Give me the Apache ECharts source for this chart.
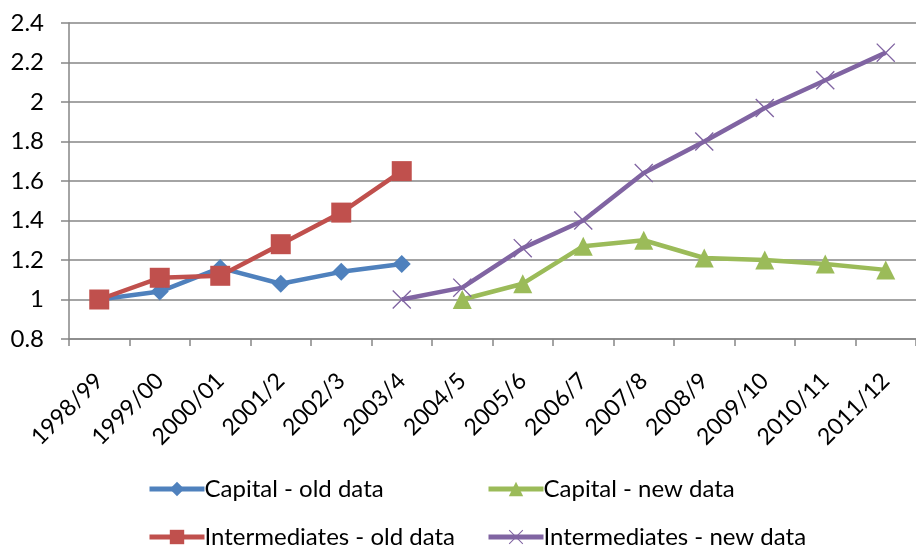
<!DOCTYPE html>
<html>
<head>
<meta charset="utf-8">
<script src="https://cdn.jsdelivr.net/npm/echarts@6/dist/echarts.min.js"></script>
<style>
  html, body { margin: 0; padding: 0; background: #fff; }
  #chart { width: 916px; height: 547px; }
</style>
</head>
<body>
<div id="chart"></div>
<script>
// Fiscal years on the category axis
const years = ['1998/99', '1999/00', '2000/01', '2001/2', '2002/3', '2003/4', '2004/5',
  '2005/6', '2006/7', '2007/8', '2008/9', '2009/10', '2010/11', '2011/12'];

// Index values (base year = 1)
const capitalOld = [1.00, 1.04, 1.16, 1.08, 1.14, 1.18, null, null, null, null, null, null, null, null];
const intermediatesOld = [1.00, 1.11, 1.12, 1.28, 1.44, 1.65, null, null, null, null, null, null, null, null];
const capitalNew = [null, null, null, null, null, null, 1.00, 1.08, 1.27, 1.30, 1.21, 1.20, 1.18, 1.15];
const intermediatesNew = [null, null, null, null, null, 1.00, 1.06, 1.26, 1.40, 1.64, 1.80, 1.97, 2.11, 2.25];

const yTicks = { min: 0.8, max: 2.4, step: 0.2 };

const FONT = 'Lato, "Open Sans", sans-serif';
const GRID_GRAY = '#868686';
const crossPath = 'path://M0,1 L1,0 L10,9 L19,0 L20,1 L11,10 L20,19 L19,20 L10,11 L1,20 L0,19 L9,10 Z';

function lineSeries(name, data, color, symbol, size) {
  return {
    name: name,
    type: 'line',
    data: data,
    connectNulls: false,
    symbol: symbol,
    symbolSize: size,
    showAllSymbol: true,
    lineStyle: { color: color, width: 4.5 },
    itemStyle: { color: color },
    emphasis: { disabled: true },
    animation: false
  };
}

// One legend entry per block so the two columns line up
function legendItem(name, left, top) {
  return {
    data: [name], left: left, top: top,
    itemWidth: 55, itemHeight: 18,
    lineStyle: { width: 5 },
    textStyle: { fontSize: 24, color: '#000', fontFamily: FONT, padding: [0, 0, 0, -5] }
  };
}

const chart = echarts.init(document.getElementById('chart'));
chart.setOption({
  backgroundColor: '#ffffff',
  textStyle: { fontFamily: FONT },
  grid: { left: 69, top: 23, bottom: 208, right: -7, containLabel: false },
  xAxis: {
    type: 'category',
    data: years,
    boundaryGap: true,
    axisLine: { lineStyle: { color: GRID_GRAY, width: 1.5 } },
    axisTick: { show: true, length: 7, interval: 0, lineStyle: { color: GRID_GRAY, width: 1.5 } },
    axisLabel: { interval: 0, rotate: 45, margin: 38, fontSize: 23, color: '#000', fontFamily: FONT },
    splitLine: { show: false }
  },
  yAxis: {
    type: 'value',
    min: yTicks.min,
    max: yTicks.max,
    interval: yTicks.step,
    axisLine: { show: true, lineStyle: { color: GRID_GRAY, width: 1.5 } },
    axisTick: { show: true, length: 8, lineStyle: { color: GRID_GRAY, width: 1.5 } },
    axisLabel: {
      margin: 25, fontSize: 24, color: '#000', fontFamily: FONT,
      formatter: v => String(Math.round(v * 10) / 10)
    },
    splitLine: { show: true, lineStyle: { color: GRID_GRAY, width: 1.5 } }
  },
  legend: [
    legendItem('Capital - old data', 142, 472),
    legendItem('Intermediates - old data', 142, 520),
    legendItem('Capital - new data', 481, 472),
    legendItem('Intermediates - new data', 481, 520)
  ],
  series: [
    lineSeries('Capital - old data', capitalOld, '#4F81BD', 'diamond', 18),
    lineSeries('Capital - new data', capitalNew, '#9BBB59', 'triangle', 19),
    lineSeries('Intermediates - old data', intermediatesOld, '#C0504D', 'rect', 20),
    lineSeries('Intermediates - new data', intermediatesNew, '#8064A2', crossPath, 19)
  ]
});
</script>
</body>
</html>
